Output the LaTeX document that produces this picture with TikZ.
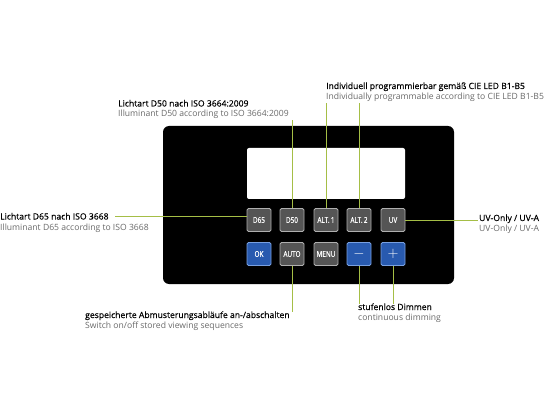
\documentclass[tikz,border=0pt]{standalone}
\usepackage{fontspec}
\setmainfont{Open Sans}
\newfontfamily\btnfont[FakeStretch=0.8, FakeBold=0.6]{Open Sans}
\newfontfamily\headfont[FakeBold=0.4]{Open Sans}
\definecolor{leadgreen}{RGB}{165,190,70}
\definecolor{keygray}{RGB}{85,85,85}
\definecolor{keyrim}{RGB}{175,175,175}
\definecolor{keyblue}{RGB}{40,90,175}
\definecolor{bluerim}{RGB}{120,160,225}
\definecolor{subgray}{RGB}{105,105,105}
\begin{document}
\begin{tikzpicture}[x=1pt, y=-1pt,
                key/.style={rectangle, draw=keyrim, fill=keygray, line width=0.9pt, rounded corners=1.5pt,
                  minimum width=24pt, minimum height=23pt, inner sep=0pt, text=white, font=\btnfont\fontsize{8}{9}\selectfont},
                bluekey/.style={key, draw=bluerim, fill=keyblue},
                head/.style={inner sep=0pt, anchor=base west, font=\headfont\fontsize{8.6}{10}\selectfont},
                sub/.style={inner sep=0pt, anchor=base west, text=subgray, font=\fontsize{8.6}{10}\selectfont},
                lead/.style={draw=leadgreen, line width=0.8pt}
            ]
                \useasboundingbox (0,0) rectangle (550,412);
                % panel and display
                \fill[black, rounded corners=6pt] (163,126) rectangle (454,284);
                \fill[white, rounded corners=2pt] (247,148) rectangle (405,199);
                % keys
                \node[key] (d65) at (259,220) {D65};
                \node[key] (d50) at (292,220) {D50};
                \node[key] (altone) at (326,220) {ALT.\,1};
                \node[key] (alttwo) at (359,220) {ALT.\,2};
                \node[key] (uv) at (393,220) {UV};
                \node[bluekey] (ok) at (259,254) {OK};
                \node[key] (auto) at (292,254) {AUTO};
                \node[key] (menu) at (326,254) {MENU};
                \node[bluekey, font=\Large] (minus) at (359,254) {$-$};
                \node[bluekey, font=\Large] (plus) at (393,254) {$+$};
                % labels
                \node[head] (d65head) at (0,219.5) {Lichtart D65 nach ISO 3668};
                \node[sub] (d65sub) at (0,230) {Illuminant D65 according to ISO 3668};
                \node[head] (d50head) at (118,106.5) {Lichtart D50 nach ISO 3664:2009};
                \node[sub] (d50sub) at (118,117) {Illuminant D50 according to ISO 3664:2009};
                \node[head] (althead) at (326,89) {Individuell programmierbar gemäß CIE LED B1-B5};
                \node[sub] (altsub) at (326,99.5) {Individually programmable according to CIE LED B1-B5};
                \node[head] (uvhead) at (479,221) {UV-Only / UV-A};
                \node[sub] (uvsub) at (479,231.5) {UV-Only / UV-A};
                \node[head] (autohead) at (85,318) {gespeicherte Abmusterungsabläufe an-/abschalten};
                \node[sub] (autosub) at (85,328.5) {Switch on/off stored viewing sequences};
                \node[head] (dimhead) at (358,310) {stufenlos Dimmen};
                \node[sub] (dimsub) at (358,320.5) {continuous dimming};
                % leads
                \draw[lead] (d65.west |- 0,216.5) -- ([xshift=6pt]d65head.east |- 0,216.5);
                \draw[lead] (d50.north) -- ([yshift=-1pt]d50.north |- d50sub.south);
                \draw[lead] (altone.north) -- ([yshift=-1pt]altone.north |- altsub.south);
                \draw[lead] (alttwo.north) -- ([yshift=-1pt]alttwo.north |- altsub.south);
                \draw[lead] (uv.east) -- ([xshift=-1pt]uvhead.west |- uv.east);
                \draw[lead] (auto.south) -- ([yshift=-1pt]auto.south |- autohead.north);
                \draw[lead] (minus.south) -- ([yshift=-1pt]minus.south |- dimhead.north);
                \draw[lead] (plus.south) -- ([yshift=-1pt]plus.south |- dimhead.north);
            \end{tikzpicture}
\end{document}
